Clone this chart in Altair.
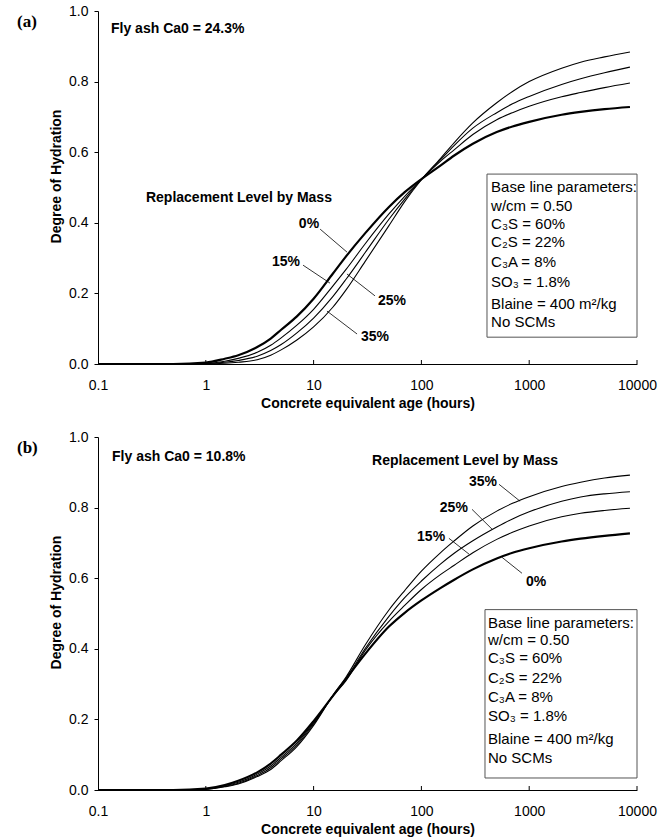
import altair as alt
import pandas as pd

# ---------------- data ----------------
hours = [0.1, 0.5, 1, 1.5, 2, 3, 4, 5, 7, 10, 15, 20, 30, 50, 70, 100, 150, 200,
         300, 500, 700, 1000, 2000, 3000, 5000, 8600]
levels = ["0%", "15%", "25%", "35%"]

# panel (a): fly ash CaO = 24.3%
a_0 = [0, 0, 0.004, 0.015, 0.025, 0.048, 0.072, 0.097, 0.135, 0.185, 0.255, 0.305, 0.370, 0.445, 0.487, 0.524, 0.562, 0.590, 0.624, 0.657, 0.673, 0.686, 0.706, 0.714, 0.722, 0.728]
a_15 = [0, 0, 0.002, 0.008, 0.016, 0.033, 0.053, 0.074, 0.110, 0.155, 0.220, 0.268, 0.340, 0.425, 0.475, 0.523, 0.574, 0.606, 0.650, 0.692, 0.712, 0.730, 0.757, 0.769, 0.783, 0.796]
a_25 = [0, 0, 0.001, 0.005, 0.010, 0.022, 0.038, 0.055, 0.088, 0.130, 0.190, 0.240, 0.315, 0.410, 0.467, 0.523, 0.578, 0.618, 0.668, 0.712, 0.737, 0.758, 0.792, 0.808, 0.825, 0.841]
a_35 = [0, 0, 0, 0.002, 0.005, 0.012, 0.025, 0.040, 0.068, 0.105, 0.160, 0.210, 0.290, 0.392, 0.460, 0.522, 0.582, 0.626, 0.683, 0.740, 0.772, 0.800, 0.838, 0.855, 0.870, 0.884]

# panel (b): fly ash CaO = 10.8%
b_0 = [0, 0, 0.004, 0.014, 0.026, 0.050, 0.075, 0.100, 0.140, 0.195, 0.265, 0.315, 0.385, 0.463, 0.502, 0.537, 0.572, 0.595, 0.625, 0.656, 0.672, 0.685, 0.704, 0.712, 0.720, 0.727]
b_15 = [0, 0, 0.003, 0.012, 0.022, 0.045, 0.068, 0.093, 0.133, 0.190, 0.265, 0.310, 0.395, 0.478, 0.523, 0.568, 0.610, 0.636, 0.672, 0.710, 0.730, 0.748, 0.774, 0.784, 0.792, 0.798]
b_25 = [0, 0, 0.002, 0.010, 0.019, 0.041, 0.063, 0.088, 0.128, 0.187, 0.266, 0.315, 0.400, 0.492, 0.545, 0.592, 0.640, 0.670, 0.706, 0.745, 0.768, 0.788, 0.818, 0.830, 0.839, 0.845]
b_35 = [0, 0, 0.002, 0.009, 0.017, 0.038, 0.058, 0.083, 0.123, 0.183, 0.267, 0.320, 0.410, 0.510, 0.565, 0.620, 0.672, 0.705, 0.748, 0.790, 0.812, 0.831, 0.860, 0.872, 0.884, 0.892]

# curve labels (text, x hours, y degree) and leader lines
a_lab_text = ["0%", "15%", "25%", "35%"]
a_lab_x = [9.06, 5.55, 53.4, 37.1]
a_lab_y = [0.397, 0.289, 0.178, 0.076]
a_lead_x = [11.5, 7.98, 37.1, 25.3]
a_lead_y = [0.382, 0.280, 0.193, 0.085]
a_lead_x2 = [20.4, 14.2, 20.4, 13.3]
a_lead_y2 = [0.317, 0.229, 0.255, 0.150]

b_lab_text = ["35%", "25%", "15%", "0%"]
b_lab_x = [373, 200, 123, 1156]
b_lab_y = [0.872, 0.798, 0.716, 0.588]
b_lead_x = [525, 295, 180, 857]
b_lead_y = [0.866, 0.795, 0.713, 0.614]
b_lead_x2 = [823, 452, 277, 560]
b_lead_y2 = [0.818, 0.739, 0.668, 0.659]

# headers
a_header = "Fly ash Ca0 = 24.3%"
b_header = "Fly ash Ca0 = 10.8%"
a_header_xy = (0.132, 0.949)
b_header_xy = (0.135, 0.943)
a_repl_xy = (2.03, 0.470)
b_repl_xy = (254, 0.932)

# parameter box
box_lines = ["Base line parameters:", "w/cm = 0.50", "C\u2083S = 60%", "C\u2082S = 22%",
             "C\u2083A = 8%", "SO\u2083 = 1.8%", "Blaine = 400 m\u00b2/kg", "No SCMs"]
a_box = dict(x=406, x2=10000, y=0.538, y2=0.076)
b_box = dict(x=389, x2=10000, y=0.511, y2=0.034)
a_box_text_x = 443
b_box_text_x = 415
a_box_line_y = [0.501, 0.448, 0.397, 0.346, 0.289, 0.232, 0.170, 0.119]
b_box_line_y = [0.472, 0.426, 0.375, 0.318, 0.264, 0.210, 0.145, 0.091]

tick_hours = [1, 10, 100, 1000, 10000]

W, H = 539, 353
SANS = "Liberation Sans"


def panel(series, tag, header, header_xy, repl_xy, lab_text, lab_x, lab_y,
          lead_x, lead_y, lead_x2, lead_y2, box, box_text_x, box_line_y):
    rows = []
    for lev, vals in zip(levels, series):
        for h, v in zip(hours, vals):
            rows.append({"hours": h, "value": v, "level": lev})
    df = pd.DataFrame(rows)

    xs = alt.Scale(type="log", domain=[0.1, 10000])
    ys = alt.Scale(domain=[0, 1])

    xenc = alt.X("hours:Q", scale=xs,
                 axis=alt.Axis(values=[0.1, 1, 10, 100, 1000, 10000], format="~g",
                               labelFlush=False, tickSize=0, labelPadding=14,
                               title="Concrete equivalent age (hours)", titlePadding=4))
    yenc = alt.Y("value:Q", scale=ys,
                 axis=alt.Axis(values=[0, 0.2, 0.4, 0.6, 0.8, 1.0], format=".1f",
                               tickSize=4, labelPadding=6, title="Degree of Hydration",
                               titlePadding=5, titleY=165))

    base = alt.Chart(df).encode(x=xenc, y=yenc, detail="level:N")
    thin = base.transform_filter(alt.datum.level != "0%").mark_line(
        interpolate="monotone", color="black", strokeWidth=1.1)
    thick = base.transform_filter(alt.datum.level == "0%").mark_line(
        interpolate="monotone", color="black", strokeWidth=2.2)

    ticks = alt.Chart(pd.DataFrame({"h": tick_hours})).mark_rule(
        color="black", strokeWidth=1).encode(
        x=alt.X("h:Q", scale=xs), y=alt.value(H), y2=alt.value(H - 4))

    lead_df = pd.DataFrame({"x": lead_x, "y": lead_y, "x2": lead_x2, "y2": lead_y2})
    leaders = alt.Chart(lead_df).mark_rule(color="black", strokeWidth=0.8).encode(
        x=alt.X("x:Q", scale=xs), y=alt.Y("y:Q", scale=ys), x2="x2:Q", y2="y2:Q")

    lab_df = pd.DataFrame({"t": lab_text, "x": lab_x, "y": lab_y})
    labs = alt.Chart(lab_df).mark_text(font=SANS, fontSize=14, fontWeight="bold",
                                       color="black").encode(
        x=alt.X("x:Q", scale=xs), y=alt.Y("y:Q", scale=ys), text="t:N")

    head_df = pd.DataFrame({"t": [header], "x": [header_xy[0]], "y": [header_xy[1]]})
    head = alt.Chart(head_df).mark_text(font=SANS, fontSize=14, fontWeight="bold",
                                        align="left", color="black").encode(
        x=alt.X("x:Q", scale=xs), y=alt.Y("y:Q", scale=ys), text="t:N")

    repl_df = pd.DataFrame({"t": ["Replacement Level by Mass"], "x": [repl_xy[0]], "y": [repl_xy[1]]})
    repl = alt.Chart(repl_df).mark_text(font=SANS, fontSize=14, fontWeight="bold",
                                        color="black").encode(
        x=alt.X("x:Q", scale=xs), y=alt.Y("y:Q", scale=ys), text="t:N")

    tag_df = pd.DataFrame({"t": [tag]})
    tagm = alt.Chart(tag_df).mark_text(font="Liberation Serif", fontSize=17,
                                       fontWeight="bold", align="left",
                                       color="black").encode(
        x=alt.value(-81), y=alt.value(11), text="t:N")

    box_df = pd.DataFrame([box])
    boxm = alt.Chart(box_df).mark_rect(fill="white", stroke="#555555",
                                       strokeWidth=1).encode(
        x=alt.X("x:Q", scale=xs), x2="x2:Q", y=alt.Y("y:Q", scale=ys), y2="y2:Q")

    bt_df = pd.DataFrame({"t": box_lines, "x": [box_text_x] * len(box_lines), "y": box_line_y})
    btxt = alt.Chart(bt_df).mark_text(font=SANS, fontSize=15, align="left",
                                      color="black").encode(
        x=alt.X("x:Q", scale=xs), y=alt.Y("y:Q", scale=ys), text="t:N")

    return alt.layer(thin, thick, ticks, leaders, labs, head, repl, tagm, boxm, btxt).properties(
        width=W, height=H)


top = panel([a_0, a_15, a_25, a_35], "(a)", a_header, a_header_xy, a_repl_xy,
            a_lab_text, a_lab_x, a_lab_y, a_lead_x, a_lead_y, a_lead_x2, a_lead_y2,
            a_box, a_box_text_x, a_box_line_y)
bottom = panel([b_0, b_15, b_25, b_35], "(b)", b_header, b_header_xy, b_repl_xy,
               b_lab_text, b_lab_x, b_lab_y, b_lead_x, b_lead_y, b_lead_x2, b_lead_y2,
               b_box, b_box_text_x, b_box_line_y)

chart = alt.vconcat(top, bottom, spacing=20).properties(
    padding={"left": 17, "top": 4, "right": 5, "bottom": 5}
).configure_view(stroke=None).configure_axis(
    domainColor="black", tickColor="black", labelColor="black", titleColor="black",
    labelFont=SANS, titleFont=SANS, labelFontSize=14, titleFontSize=14,
    titleFontWeight="bold", grid=False, domainWidth=1
)

chart.save("out.html", embed_options={"renderer": "svg", "actions": False})
